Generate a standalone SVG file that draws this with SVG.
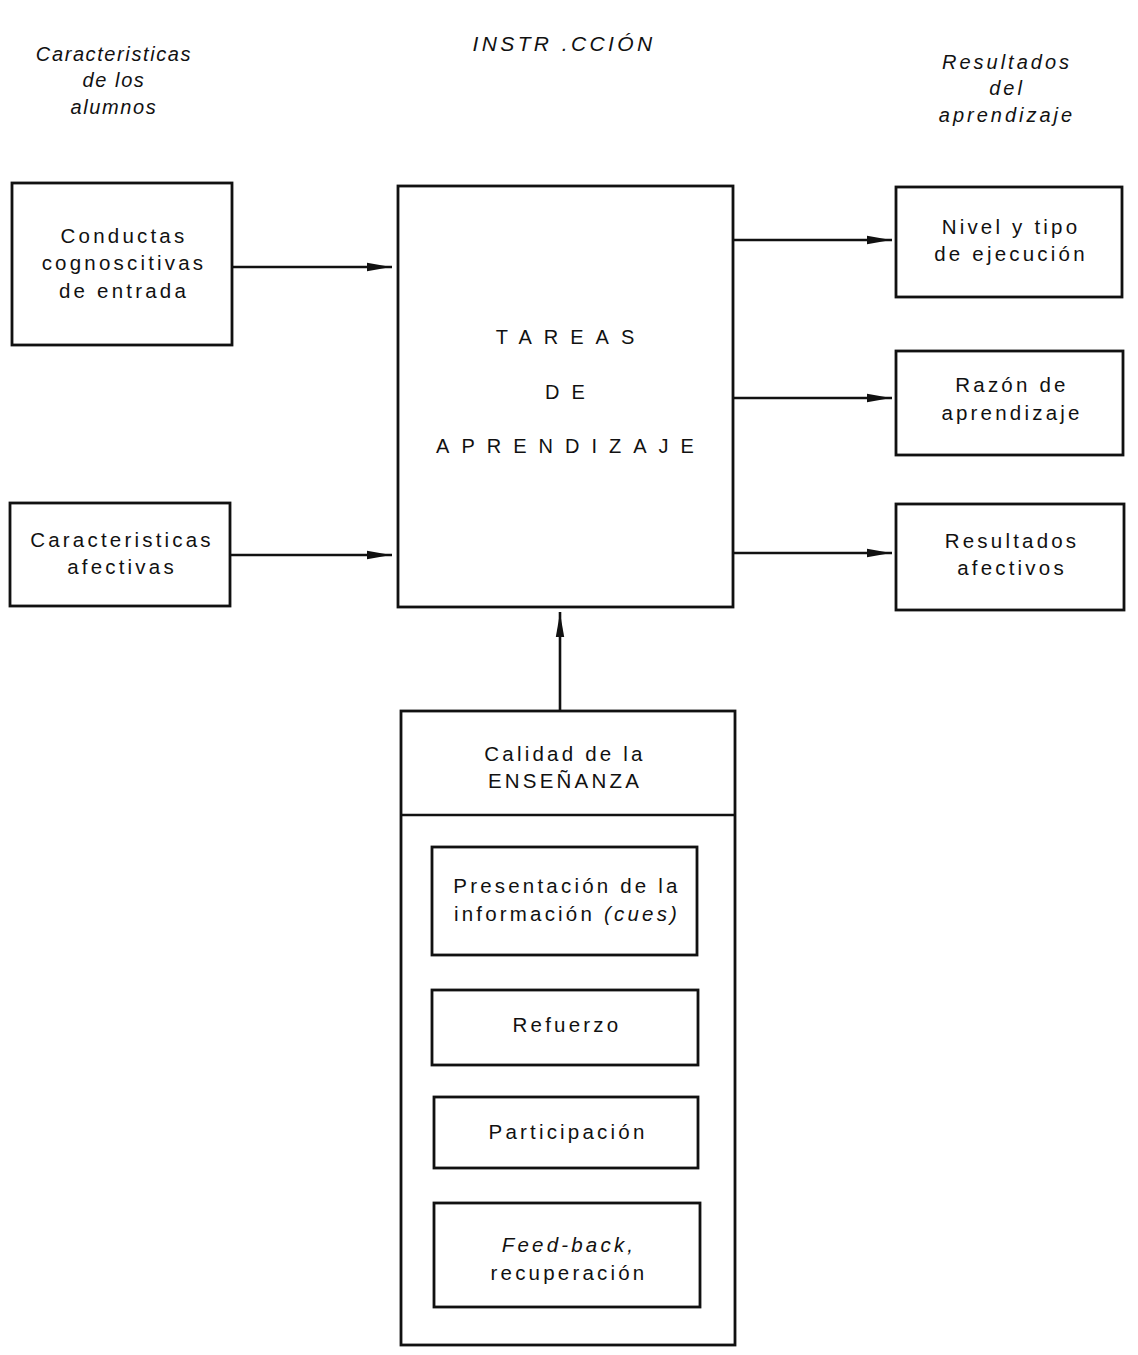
<svg xmlns="http://www.w3.org/2000/svg" width="1138" height="1355" viewBox="0 0 1138 1355">
  <style>
    .box { fill: #fff; stroke: #111; stroke-width: 2.8; }
    .line { stroke: #111; stroke-width: 2.6; fill: none; }
    .t { font-family: "Liberation Sans", Arial, sans-serif; font-size: 20.5px; letter-spacing: 3.2px; fill: #111; text-anchor: middle; }
    .big { font-family: "Liberation Sans", Arial, sans-serif; font-size: 20px; letter-spacing: 12px; fill: #111; text-anchor: middle; }
    .hd { font-family: "Liberation Sans", Arial, sans-serif; font-size: 20px; font-style: italic; letter-spacing: 1.6px; fill: #111; text-anchor: middle; }
    .hr { letter-spacing: 3px; }
    .hi { letter-spacing: 3.4px; font-size: 21px; }
    .it { font-style: italic; }
  </style>
  <defs>
    <marker id="arrow" markerUnits="userSpaceOnUse" markerWidth="30" markerHeight="12" refX="25" refY="5" orient="auto">
      <path d="M0,0.8 L24,5 L0,9.2 Z" fill="#111"/>
    </marker>
  </defs>

  <!-- column headings -->
  <g id="headings">
    <text class="hd" x="114" y="61">Caracteristicas</text>
    <text class="hd" x="114" y="87">de los</text>
    <text class="hd" x="114" y="114">alumnos</text>
    <text class="hd hi" x="564" y="51">INSTR .CCIÓN</text>
    <text class="hd hr" x="1007" y="69">Resultados</text>
    <text class="hd hr" x="1007" y="95">del</text>
    <text class="hd hr" x="1007" y="122">aprendizaje</text>
  </g>

  <!-- connectors -->
  <g id="connectors">
    <line class="line" x1="232" y1="267" x2="392" y2="267" marker-end="url(#arrow)"/>
    <line class="line" x1="230" y1="555" x2="392" y2="555" marker-end="url(#arrow)"/>
    <line class="line" x1="733" y1="240" x2="892" y2="240" marker-end="url(#arrow)"/>
    <line class="line" x1="733" y1="398" x2="892" y2="398" marker-end="url(#arrow)"/>
    <line class="line" x1="733" y1="553" x2="892" y2="553" marker-end="url(#arrow)"/>
    <line class="line" x1="560" y1="711" x2="560" y2="612" marker-end="url(#arrow)"/>
  </g>

  <g id="conductas">
    <rect class="box" x="12" y="183" width="220" height="162"/>
    <text class="t" x="124" y="243">Conductas</text>
    <text class="t" x="124" y="270">cognoscitivas</text>
    <text class="t" x="124" y="298">de entrada</text>
  </g>

  <g id="afectivas">
    <rect class="box" x="10" y="503" width="220" height="103"/>
    <text class="t" x="122" y="547">Caracteristicas</text>
    <text class="t" x="122" y="574">afectivas</text>
  </g>

  <g id="tareas">
    <rect class="box" x="398" y="186" width="335" height="421"/>
    <text class="big" x="571" y="344">TAREAS</text>
    <text class="big" x="571" y="399">DE</text>
    <text class="big" x="571" y="453">APRENDIZAJE</text>
  </g>

  <g id="nivel">
    <rect class="box" x="896" y="187" width="226" height="110"/>
    <text class="t" x="1011" y="234">Nivel y tipo</text>
    <text class="t" x="1011" y="261">de ejecución</text>
  </g>

  <g id="razon">
    <rect class="box" x="896" y="351" width="227" height="104"/>
    <text class="t" x="1012" y="392">Razón de</text>
    <text class="t" x="1012" y="420">aprendizaje</text>
  </g>

  <g id="resultados">
    <rect class="box" x="896" y="504" width="228" height="106"/>
    <text class="t" x="1012" y="548">Resultados</text>
    <text class="t" x="1012" y="575">afectivos</text>
  </g>

  <g id="calidad">
    <rect class="box" x="401" y="711" width="334" height="634"/>
    <line class="line" x1="401" y1="815" x2="735" y2="815"/>
    <text class="t" x="565" y="761">Calidad de la</text>
    <text class="t" x="565" y="788">ENSEÑANZA</text>
  </g>

  <g id="presentacion">
    <rect class="box" x="432" y="847" width="265" height="108"/>
    <text class="t" x="567" y="893">Presentación de la</text>
    <text class="t" x="567" y="921">información <tspan class="it">(cues)</tspan></text>
  </g>

  <g id="refuerzo">
    <rect class="box" x="432" y="990" width="266" height="75"/>
    <text class="t" x="567" y="1032">Refuerzo</text>
  </g>

  <g id="participacion">
    <rect class="box" x="434" y="1097" width="264" height="71"/>
    <text class="t" x="568" y="1139">Participación</text>
  </g>

  <g id="feedback">
    <rect class="box" x="434" y="1203" width="266" height="104"/>
    <text class="t it" x="569" y="1252">Feed-back,</text>
    <text class="t" x="569" y="1280">recuperación</text>
  </g>
</svg>
